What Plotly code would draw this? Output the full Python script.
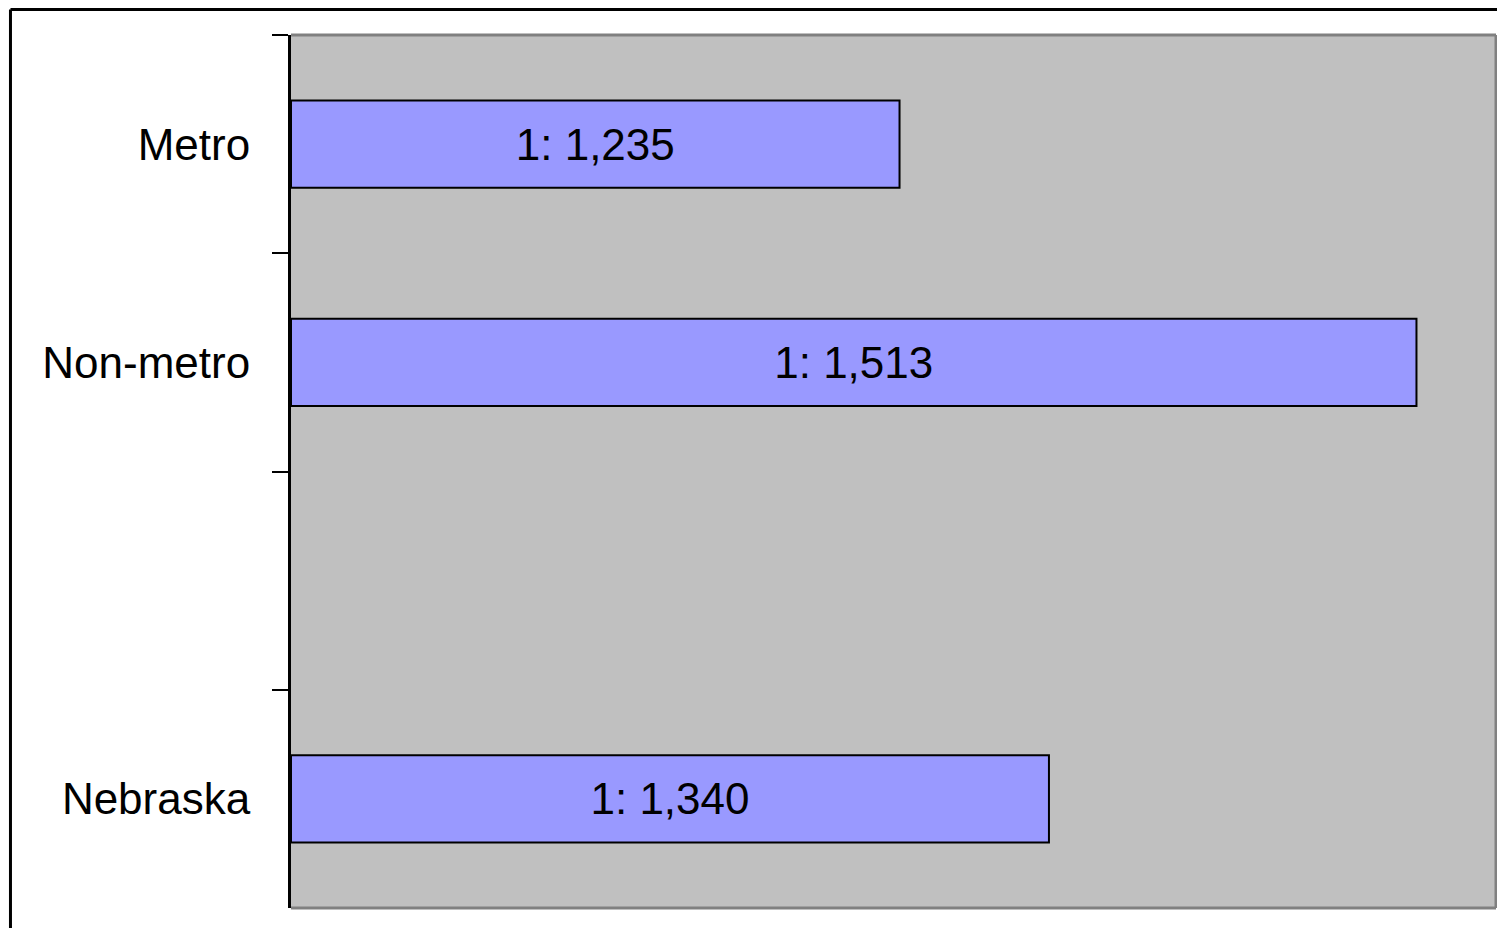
import plotly.graph_objects as go

categories = ["Metro", "Non-metro", " ", "Nebraska"]
bar_lengths = [50.5, 93.4, None, 62.9]
bar_labels = ["1: 1,235", "1: 1,513", "", "1: 1,340"]

FONT = "Liberation Sans, Arial, sans-serif"

fig = go.Figure(
    go.Bar(
        y=categories,
        x=bar_lengths,
        orientation="h",
        text=bar_labels,
        textposition="inside",
        insidetextanchor="middle",
        textangle=0,
        textfont=dict(family=FONT, size=44, color="black"),
        marker=dict(color="#9999FF", line=dict(color="black", width=2)),
        hoverinfo="skip",
    )
)

fig.update_layout(
    width=1491,
    height=920,
    margin=dict(l=283, r=3, t=27, b=20),
    paper_bgcolor="white",
    plot_bgcolor="#C0C0C0",
    bargap=0.6,
    showlegend=False,
    font=dict(family=FONT, size=44, color="black"),
    xaxis=dict(
        range=[0, 100],
        showticklabels=False,
        showgrid=False,
        zeroline=False,
        ticks="",
        showline=False,
    ),
    yaxis=dict(
        type="category",
        categoryorder="array",
        categoryarray=categories,
        autorange="reversed",
        tickson="boundaries",
        ticks="outside",
        ticklen=16,
        tickwidth=2,
        tickcolor="black",
        showline=True,
        linecolor="black",
        linewidth=3,
        showgrid=False,
        zeroline=False,
        tickfont=dict(family=FONT, size=44, color="black"),
        ticklabelstandoff=29,
    ),
    shapes=[
        dict(type="line", xref="paper", yref="paper", x0=0, x1=1, y0=1, y1=1,
             line=dict(color="#808080", width=3)),
        dict(type="line", xref="paper", yref="paper", x0=1, x1=1, y0=0, y1=1,
             line=dict(color="#808080", width=3)),
        dict(type="line", xref="paper", yref="paper", x0=0, x1=1, y0=0, y1=0,
             line=dict(color="#808080", width=3)),
        dict(type="line", xref="paper", yref="paper", x0=-0.2328, x1=-0.2328, y0=-0.1, y1=1.0292,
             line=dict(color="black", width=3)),
        dict(type="line", xref="paper", yref="paper", x0=-0.2328, x1=1.1, y0=1.0292, y1=1.0292,
             line=dict(color="black", width=3)),
    ],
)

fig.write_html("out.html")
